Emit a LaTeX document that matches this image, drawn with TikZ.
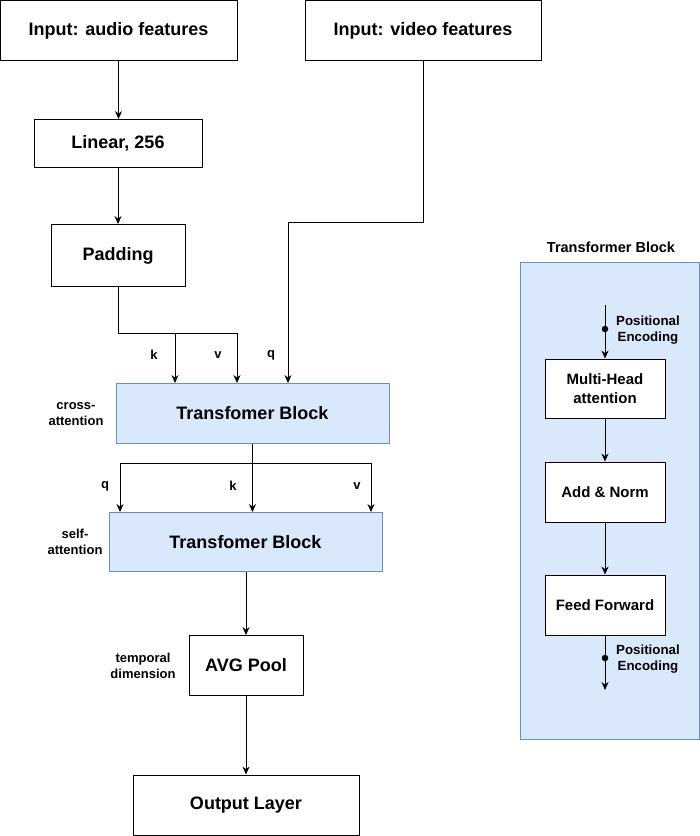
\documentclass[tikz,border=0pt]{standalone}
\usepackage{fontspec}
\setmainfont{Liberation Sans}
\usetikzlibrary{arrows.meta}
\definecolor{tfblue}{HTML}{DAE8FC}
\definecolor{tfedge}{HTML}{6C8EBF}
\tikzset{
	box/.style={draw=black, fill=white, line width=0.9pt, inner sep=0pt, align=center, font=\bfseries\fontsize{18}{21}\selectfont},
	tfbox/.style={box, fill=tfblue, draw=tfedge},
	inbox/.style={box, font=\bfseries\fontsize{15}{19}\selectfont},
	lbl/.style={align=center, inner sep=0pt, font=\bfseries\fontsize{13}{16}\selectfont},
	arr/.style={-{Stealth[length=8pt,width=7pt]}, line width=0.9pt},
	dot/.style={circle, fill=black, inner sep=0pt, minimum size=6.5pt},
}
\begin{document}
\begin{tikzpicture}[x=1pt, y=-1pt]
	\useasboundingbox (0,0) rectangle (700,836);
	% inputs
	\node[box, minimum width=237, minimum height=60] (audio) at (118.5,30.5) {Input: audio features};
	\node[box, minimum width=236, minimum height=60] (video) at (423,30.5) {Input: video features};
	% audio branch
	\node[box, minimum width=168, minimum height=48] (linear) at (118,143.5) {Linear, 256};
	\node[box, minimum width=134, minimum height=62] (pad) at (118,255.5) {Padding};
	% transformer blocks
	\node[tfbox, minimum width=273, minimum height=60] (cross) at (252.5,413.5) {Transfomer Block};
	\node[tfbox, minimum width=273, minimum height=59] (self) at (245.5,542) {Transfomer Block};
	% pooling and output
	\node[box, minimum width=114, minimum height=60] (pool) at (246,665.5) {AVG Pool};
	\node[box, minimum width=226, minimum height=60] (out) at (246,805) {Output Layer};
	% side labels
	\node[lbl] (crosslbl) at (76,414) {cross-\\attention};
	\node[lbl] (selflbl) at (75,542) {self-\\attention};
	\node[lbl] (poollbl) at (143,666) {temporal\\dimension};
	% audio path
	\draw[arr] (audio.south) -- (audio.south |- linear.north);
	\draw[arr] (linear.south) -- (linear.south |- pad.north);
	\coordinate (kin) at (175,333);
	\coordinate (vin) at (237,333);
	\draw[line width=0.9pt] (pad.south) |- (vin);
	\draw[arr] (kin) -- (kin |- cross.north);
	\draw[arr] (vin) -- (vin |- cross.north);
	% video path
	\coordinate (qbend) at (288,222);
	\draw[arr] (video.south) |- (qbend) -- (qbend |- cross.north);
	\node[lbl] (klbl) at (154,355) {k};
	\node[lbl] (vlbl) at (218,355) {v};
	\node[lbl] (qlbl) at (271,355) {q};
	% cross to self
	\coordinate (qs) at (120,463);
	\coordinate (vs) at (371,463);
	\draw[line width=0.9pt] (qs) -- (vs);
	\draw[arr] (cross.south) -- (cross.south |- self.north);
	\draw[arr] (qs) -- (qs |- self.north);
	\draw[arr] (vs) -- (vs |- self.north);
	\node[lbl] (qslbl) at (105,486) {q};
	\node[lbl] (kslbl) at (233,486) {k};
	\node[lbl] (vslbl) at (357,486) {v};
	% self to output
	\draw[arr] (self.south -| pool.north) -- (pool.north);
	\draw[arr] (pool.south) -- (out.north);
	% transformer block detail
	\node[box, fill=tfblue, draw=tfedge, minimum width=179, minimum height=477] (panel) at (609.5,500.5) {};
	\node[lbl, font=\bfseries\fontsize{14.5}{17}\selectfont] (paneltitle) at (611,247) {Transformer Block};
	\node[inbox, minimum width=120, minimum height=59] (mha) at (605,388.5) {Multi-Head\\attention};
	\node[inbox, minimum width=120, minimum height=60] (norm) at (605,492) {Add \& Norm};
	\node[inbox, minimum width=120, minimum height=60] (ff) at (605,605) {Feed Forward};
	\coordinate (pein) at (605,305);
	\coordinate (peout) at (605,690);
	\node[dot] (pe1) at (605,329) {};
	\node[dot] (pe2) at (605,658) {};
	\draw[arr] (pein) -- (mha.north);
	\draw[arr] (mha.south) -- (norm.north);
	\draw[arr] (norm.south) -- (ff.north);
	\draw[arr] (ff.south) -- (peout);
	\node[lbl, font=\bfseries\fontsize{13.3}{16}\selectfont] (pe1lbl) at (648,330) {Positional\\Encoding};
	\node[lbl, font=\bfseries\fontsize{13.3}{16}\selectfont] (pe2lbl) at (648,659) {Positional\\Encoding};
\end{tikzpicture}
\end{document}
